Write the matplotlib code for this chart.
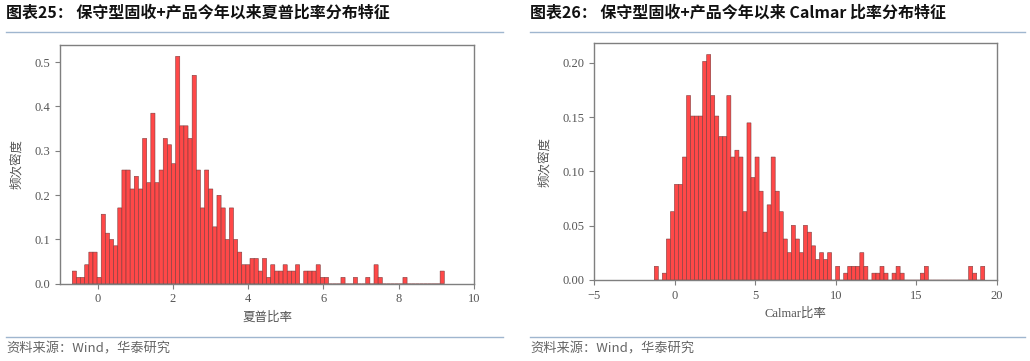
import numpy as np
import matplotlib
matplotlib.use("Agg")
import matplotlib.pyplot as plt
from matplotlib.lines import Line2D

# 每个分箱内的产品数量
sharpe_counts = [
    2, 1, 1, 3, 5, 5, 1, 11, 8, 7,
    6, 12, 18, 18, 15, 17, 15, 23, 16, 27,
    16, 18, 23, 22, 19, 36, 25, 25, 23, 33,
    18, 12, 18, 15, 9, 14, 12, 7, 12, 7,
    5, 3, 3, 4, 4, 2, 4, 1, 3, 2,
    2, 3, 2, 2, 3, 0, 2, 2, 2, 3,
    1, 1, 0, 0, 0, 1, 0, 0, 1, 0,
    0, 1, 0, 3, 1, 0, 0, 0, 0, 0,
    1, 0, 0, 0, 0, 0, 0, 0, 0, 2,
]
sharpe_range = (-0.673, 9.21)

calmar_counts = [
    2, 0, 1, 6, 10, 14, 14, 18, 27, 24,
    24, 24, 32, 33, 27, 24, 21, 21, 27, 18,
    19, 18, 10, 23, 15, 18, 13, 7, 11, 18,
    13, 10, 6, 4, 8, 6, 4, 8, 7, 5,
    3, 4, 3, 4, 0, 2, 0, 1, 2, 2,
    2, 4, 2, 0, 1, 1, 2, 1, 0, 1,
    2, 1, 0, 0, 0, 0, 1, 2, 0, 0,
    0, 0, 0, 0, 0, 0, 0, 0, 2, 1,
    0, 2,
]
calmar_range = (-1.26, 19.24)

titles = ["图表25： 保守型固收+产品今年以来夏普比率分布特征",
          "图表26： 保守型固收+产品今年以来 Calmar 比率分布特征"]
xlabels = ["夏普比率", "Calmar比率"]
ylabel = "频次密度"
source = "资料来源：Wind，华泰研究"

W, H = 1030, 361
CJK = ["Noto Sans CJK SC", "DejaVu Sans"]
SERIF = ["Liberation Serif", "Noto Sans CJK SC"]


def fx(x):
    return x / W


def fy(y):
    return 1 - y / H


def draw_hist(ax, counts, rng, xlim, xticks, yticks, yfmt):
    edges = np.linspace(rng[0], rng[1], len(counts) + 1)
    centers = (edges[:-1] + edges[1:]) / 2
    _, _, patches = ax.hist(centers, bins=edges, weights=counts, density=True,
                            facecolor="#ff4848", edgecolor="#7a3b3b",
                            linewidth=0.4)
    for p in patches:
        p.set_snap(False)
    ax.set_xlim(*xlim)
    ax.set_xticks(xticks)
    ax.set_yticks(yticks)
    ax.set_yticklabels([yfmt.format(v) for v in yticks])
    for s in ax.spines.values():
        s.set_color("#7f7f7f")
        s.set_linewidth(1.0)
    ax.tick_params(colors="#7f7f7f", labelcolor="#555555", length=3.5,
                   width=0.8, labelsize=9)
    for lab in ax.get_xticklabels() + ax.get_yticklabels():
        lab.set_family(SERIF)


fig = plt.figure(figsize=(W / 100, H / 100), dpi=100)

# 左图：夏普比率
ax1 = fig.add_axes([fx(60), fy(283.7), fx(474 - 60), (283.7 - 45) / H])
draw_hist(ax1, sharpe_counts, sharpe_range, (-1, 10),
          [0, 2, 4, 6, 8, 10], [0.0, 0.1, 0.2, 0.3, 0.4, 0.5], "{:.1f}")
ax1.set_xlabel(xlabels[0], family=CJK, fontsize=9, color="#555555",
               labelpad=4)
ax1.set_ylabel(ylabel, family=CJK, fontsize=9, color="#555555", labelpad=8)

# 右图：Calmar比率
ax2 = fig.add_axes([fx(594), fy(280), fx(997 - 594), (280 - 43.3) / H])
draw_hist(ax2, calmar_counts, calmar_range, (-5, 20),
          [-5, 0, 5, 10, 15, 20], [0.0, 0.05, 0.10, 0.15, 0.20], "{:.2f}")
ax2.set_xlabel(xlabels[1], family=SERIF, fontsize=9, color="#555555",
               labelpad=4)
ax2.set_ylabel(ylabel, family=CJK, fontsize=9, color="#555555", labelpad=8)

# 标题、分隔线和资料来源
line_color = "#9fb6cf"
for x0, x1, title in [(6, 503, titles[0]), (530, 1025, titles[1])]:
    fig.text(fx(x0), fy(13), title, family=CJK, fontsize=11.5,
             fontweight="bold", color="#111111", va="center", ha="left")
    fig.add_artist(Line2D([fx(x0), fx(x1)], [fy(32), fy(32)],
                          color=line_color, linewidth=1.0))
    fig.add_artist(Line2D([fx(x0), fx(x1)], [fy(337), fy(337)],
                          color=line_color, linewidth=1.0))
    fig.text(fx(x0), fy(349), source, family=CJK, fontsize=9.5,
             color="#666666", va="center", ha="left")

fig.savefig("out.png", dpi=100)
